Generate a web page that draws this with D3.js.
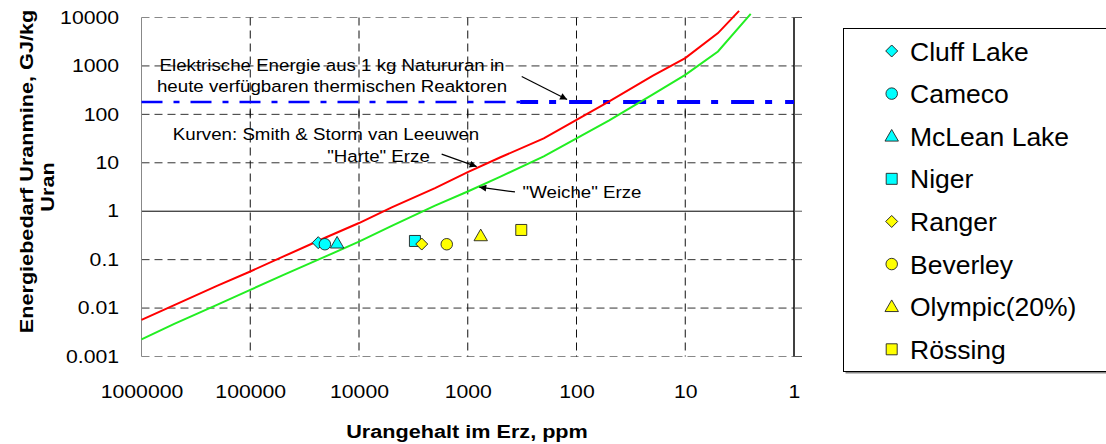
<!DOCTYPE html>
<html>
<head>
<meta charset="utf-8">
<script src="https://d3js.org/d3.v7.min.js"></script>
<style>
  body { margin: 0; background: #fff; }
  svg { font-family: "Liberation Sans", Arial, sans-serif; display: block; }
</style>
</head>
<body>
<div id="chart"></div>
<script>
// decades on both log axes
var gradeTicks = [1000000, 100000, 10000, 1000, 100, 10, 1];
var gradeTickLabels = ["1000000", "100000", "10000", "1000", "100", "10", "1"];
var energyTicks = [0.001, 0.01, 0.1, 1, 10, 100, 1000, 10000];
var energyTickLabels = ["0.001", "0.01", "0.1", "1", "10", "100", "1000", "10000"];

// Smith & Storm van Leeuwen curves (ppm -> GJ/kg)
var hardGrade  = [1000000, 500000, 200000, 100000, 50000, 20000, 10000, 5000, 2000, 1000, 500, 200, 100, 50, 20, 10, 5, 3.2];
var hardEnergy = [0.0057, 0.0115, 0.029, 0.057, 0.115, 0.29, 0.57, 1.2, 3.0, 6.4, 13, 32, 77, 185, 620, 1450, 4760, 13700];
var softGrade  = [1000000, 500000, 200000, 100000, 50000, 20000, 10000, 5000, 2000, 1000, 500, 200, 100, 50, 20, 10, 5, 2.5];
var softEnergy = [0.00226, 0.0047, 0.0118, 0.0237, 0.048, 0.118, 0.235, 0.5, 1.3, 2.55, 5.2, 13.5, 32, 75, 255, 655, 1990, 11900];

// electric energy from 1 kg natural uranium
var reactorThinGrade = [1000000, 330];
var reactorThickGrade = [330, 1];
var reactorEnergy = 180;

// mines
var mineNames  = ["Cluff Lake", "Cameco", "McLean Lake", "Niger", "Ranger", "Beverley", "Olympic(20%)", "R\u00f6ssing"];
var mineGrade  = [23700, 20600, 15900, 3060, 2650, 1560, 760, 322];
var mineEnergy = [0.224, 0.208, 0.219, 0.243, 0.21, 0.208, 0.31, 0.41];

var mineStyle = {
  "Cluff Lake":   { shape: "diamond",  fill: "#00ffff" },
  "Cameco":       { shape: "circle",   fill: "#00ffff" },
  "McLean Lake":  { shape: "triangle", fill: "#00ffff" },
  "Niger":        { shape: "square",   fill: "#00ffff" },
  "Ranger":       { shape: "diamond",  fill: "#ffff00" },
  "Beverley":     { shape: "circle",   fill: "#ffff00" },
  "Olympic(20%)": { shape: "triangle", fill: "#ffff00" },
  "R\u00f6ssing": { shape: "square",   fill: "#ffff00" }
};

var width = 1106, height = 444;
var plotLeft = 141.5, plotRight = 794, plotTop = 17.5, plotBottom = 356.5;
var stretch = 1.18; // tick/axis font is wider than Arial

var x = d3.scaleLog().domain([1000000, 1]).range([plotLeft, plotRight]);
var y = d3.scaleLog().domain([0.001, 10000]).range([plotBottom, plotTop]);

var svg = d3.select("#chart").append("svg")
    .attr("width", width)
    .attr("height", height);

// grid
svg.append("g").selectAll("line")
    .data(energyTicks)
    .enter().append("line")
    .attr("x1", plotLeft).attr("x2", plotRight)
    .attr("y1", function(d) { return y(d); })
    .attr("y2", function(d) { return y(d); })
    .attr("stroke", function(d) {
      if (d == 1) return "#000";
      return (d == 0.001 || d == 10000) ? "#888" : "#333";
    })
    .attr("stroke-width", 1)
    .attr("stroke-dasharray", function(d) { return d == 1 ? null : "8,5"; });

svg.append("g").selectAll("line")
    .data(gradeTicks.filter(function(d) { return d != 1000000 && d != 1; }))
    .enter().append("line")
    .attr("x1", function(d) { return x(d); })
    .attr("x2", function(d) { return x(d); })
    .attr("y1", plotTop).attr("y2", plotBottom)
    .attr("stroke", "#111")
    .attr("stroke-dasharray", "8,5");

// small crosses where the verticals meet the 100 line
svg.append("g").selectAll("line")
    .data(gradeTicks.filter(function(d) { return d != 1000000 && d != 1; }))
    .enter().append("line")
    .attr("x1", function(d) { return x(d); })
    .attr("x2", function(d) { return x(d); })
    .attr("y1", y(100) - 4).attr("y2", y(100) + 4)
    .attr("stroke", "#111");

// left frame (gray) and right axis (black) with outer ticks
svg.append("line").attr("x1", plotLeft).attr("x2", plotLeft).attr("y1", plotTop).attr("y2", plotBottom)
    .attr("stroke", "#888");
svg.append("line").attr("x1", plotRight).attr("x2", plotRight).attr("y1", plotTop).attr("y2", plotBottom)
    .attr("stroke", "#000").attr("stroke-width", 1.5);
svg.append("g").selectAll("line")
    .data(energyTicks)
    .enter().append("line")
    .attr("x1", plotRight).attr("x2", plotRight + 8)
    .attr("y1", function(d) { return y(d); })
    .attr("y2", function(d) { return y(d); })
    .attr("stroke", "#555");

// axes labels via d3 axes
var yAxis = d3.axisLeft(y).tickValues(energyTicks)
    .tickFormat(function(d, i) { return energyTickLabels[i]; })
    .tickSize(0).tickPadding(19);
var gy = svg.append("g").attr("transform", "translate(" + plotLeft + ",0)").call(yAxis);
gy.select(".domain").remove();
gy.selectAll("text")
    .attr("font-size", 18).attr("font-family", "Liberation Sans, Arial, sans-serif")
    .attr("fill", "#000")
    .attr("transform", "scale(" + stretch + ",1)");

var xAxis = d3.axisBottom(x).tickValues(gradeTicks)
    .tickFormat(function(d, i) { return gradeTickLabels[i]; })
    .tickSize(0).tickPadding(28.5);
var gx = svg.append("g").attr("transform", "translate(0," + plotBottom + ")").call(xAxis);
gx.select(".domain").remove();
gx.selectAll("text")
    .attr("font-size", 18).attr("font-family", "Liberation Sans, Arial, sans-serif")
    .attr("fill", "#000")
    .attr("transform", "scale(" + stretch + ",1)");

// reactor line
svg.append("line")
    .attr("x1", x(reactorThinGrade[0])).attr("x2", x(reactorThinGrade[1]))
    .attr("y1", y(reactorEnergy)).attr("y2", y(reactorEnergy))
    .attr("stroke", "#0000ff").attr("stroke-width", 2.3)
    .attr("stroke-dasharray", "21,11,6,11");
svg.append("line")
    .attr("x1", x(reactorThickGrade[0])).attr("x2", x(reactorThickGrade[1]))
    .attr("y1", y(reactorEnergy)).attr("y2", y(reactorEnergy))
    .attr("stroke", "#0000ff").attr("stroke-width", 4)
    .attr("stroke-dasharray", "18,11,7,13,23,11,7,13,23,11,7,13,23,11,7,13,23,11,7,13");

// curves
var line = d3.line()
    .x(function(d) { return x(d[0]); })
    .y(function(d) { return y(d[1]); });

svg.append("path")
    .datum(d3.zip(softGrade, softEnergy))
    .attr("d", line)
    .attr("fill", "none").attr("stroke", "#22ee22").attr("stroke-width", 2);
svg.append("path")
    .datum(d3.zip(hardGrade, hardEnergy))
    .attr("d", line)
    .attr("fill", "none").attr("stroke", "#ff0000").attr("stroke-width", 2);

// markers
function markerPath(shape) {
  if (shape == "circle") return d3.symbol(d3.symbolCircle, 104)();
  if (shape == "square") return d3.symbol(d3.symbolSquare, 121)();
  if (shape == "triangle") return d3.symbol(d3.symbolTriangle, 78)();
  return d3.symbol(d3.symbolSquare, 72)();
}
function markerTransform(shape, px, py) {
  var t = "translate(" + px + "," + py + ")";
  if (shape == "diamond") t += " rotate(45)";
  if (shape == "triangle") t += " translate(0,1)";
  return t;
}

var mines = mineNames.map(function(n, i) {
  return { name: n, grade: mineGrade[i], energy: mineEnergy[i] };
});

svg.append("g").selectAll("path")
    .data(mines)
    .enter().append("path")
    .attr("d", function(d) { return markerPath(mineStyle[d.name].shape); })
    .attr("transform", function(d) { return markerTransform(mineStyle[d.name].shape, x(d.grade), y(d.energy)); })
    .attr("fill", function(d) { return mineStyle[d.name].fill; })
    .attr("stroke", "#222").attr("stroke-width", 0.9);

// annotations
function stretchedText(txt, px, py, size) {
  return svg.append("text")
      .attr("transform", "translate(" + px + "," + py + ") scale(1.1,1)")
      .attr("text-anchor", "middle")
      .attr("font-size", size)
      .text(txt);
}
stretchedText("Elektrische Energie aus 1 kg Natururan in", 332, 70.5, 17);
stretchedText("heute verf\u00fcgbaren thermischen Reaktoren", 332, 92, 17);
stretchedText("Kurven: Smith & Storm van Leeuwen", 326, 140, 17);
stretchedText("\"Harte\" Erze", 378.5, 161.5, 17);
stretchedText("\"Weiche\" Erze", 582, 198, 17);

// arrows, endpoints in data space
var arrows = [
  { from: [319, 604], to: [122, 202] },
  { from: [1738, 15.1], to: [828, 8.34] },
  { from: [368, 2.5], to: [784, 3.13] }
];
svg.append("defs").append("marker")
    .attr("id", "head")
    .attr("viewBox", "0 0 10 10")
    .attr("refX", 10).attr("refY", 5)
    .attr("markerWidth", 9).attr("markerHeight", 7)
    .attr("markerUnits", "userSpaceOnUse")
    .attr("orient", "auto")
  .append("path")
    .attr("d", "M0,0L10,5L0,10Z")
    .attr("fill", "#000");
svg.append("g").selectAll("line")
    .data(arrows)
    .enter().append("line")
    .attr("x1", function(d) { return x(d.from[0]); })
    .attr("y1", function(d) { return y(d.from[1]); })
    .attr("x2", function(d) { return x(d.to[0]); })
    .attr("y2", function(d) { return y(d.to[1]); })
    .attr("stroke", "#000").attr("stroke-width", 1.2)
    .attr("marker-end", "url(#head)");

// axis titles
svg.append("text")
    .attr("transform", "translate(467,438) scale(1.17,1)")
    .attr("text-anchor", "middle")
    .attr("font-size", 18.5).attr("font-weight", "bold")
    .text("Urangehalt im Erz, ppm");
svg.append("text")
    .attr("transform", "translate(32.5,171.5) rotate(-90) scale(1.17,1)")
    .attr("text-anchor", "middle")
    .attr("font-size", 18.5).attr("font-weight", "bold")
    .text("Energiebedarf Uranmine, GJ/kg");
svg.append("text")
    .attr("transform", "translate(53.5,187) rotate(-90) scale(1.17,1)")
    .attr("text-anchor", "middle")
    .attr("font-size", 18.5).attr("font-weight", "bold")
    .text("Uran");

// legend
var legend = svg.append("g");
legend.append("rect")
    .attr("x", 845.5).attr("y", 30.5).attr("width", 280).attr("height", 343)
    .attr("fill", "#888");
legend.append("rect")
    .attr("x", 843.5).attr("y", 28.5).attr("width", 280).attr("height", 343)
    .attr("fill", "#fff").attr("stroke", "#000");

var rowY = d3.scalePoint().domain(mineNames).range([51, 349.3]);
var rows = legend.selectAll(".row")
    .data(mineNames)
    .enter().append("g")
    .attr("class", "row");
rows.append("path")
    .attr("d", function(d) { return markerPath(mineStyle[d].shape); })
    .attr("transform", function(d) { return markerTransform(mineStyle[d].shape, 891.7, rowY(d)); })
    .attr("fill", function(d) { return mineStyle[d].fill; })
    .attr("stroke", "#222").attr("stroke-width", 0.9);
rows.append("text")
    .attr("x", 910)
    .attr("y", function(d) { return rowY(d) + 9.5; })
    .attr("font-size", 26.5)
    .text(function(d) { return d; });
</script>
</body>
</html>
